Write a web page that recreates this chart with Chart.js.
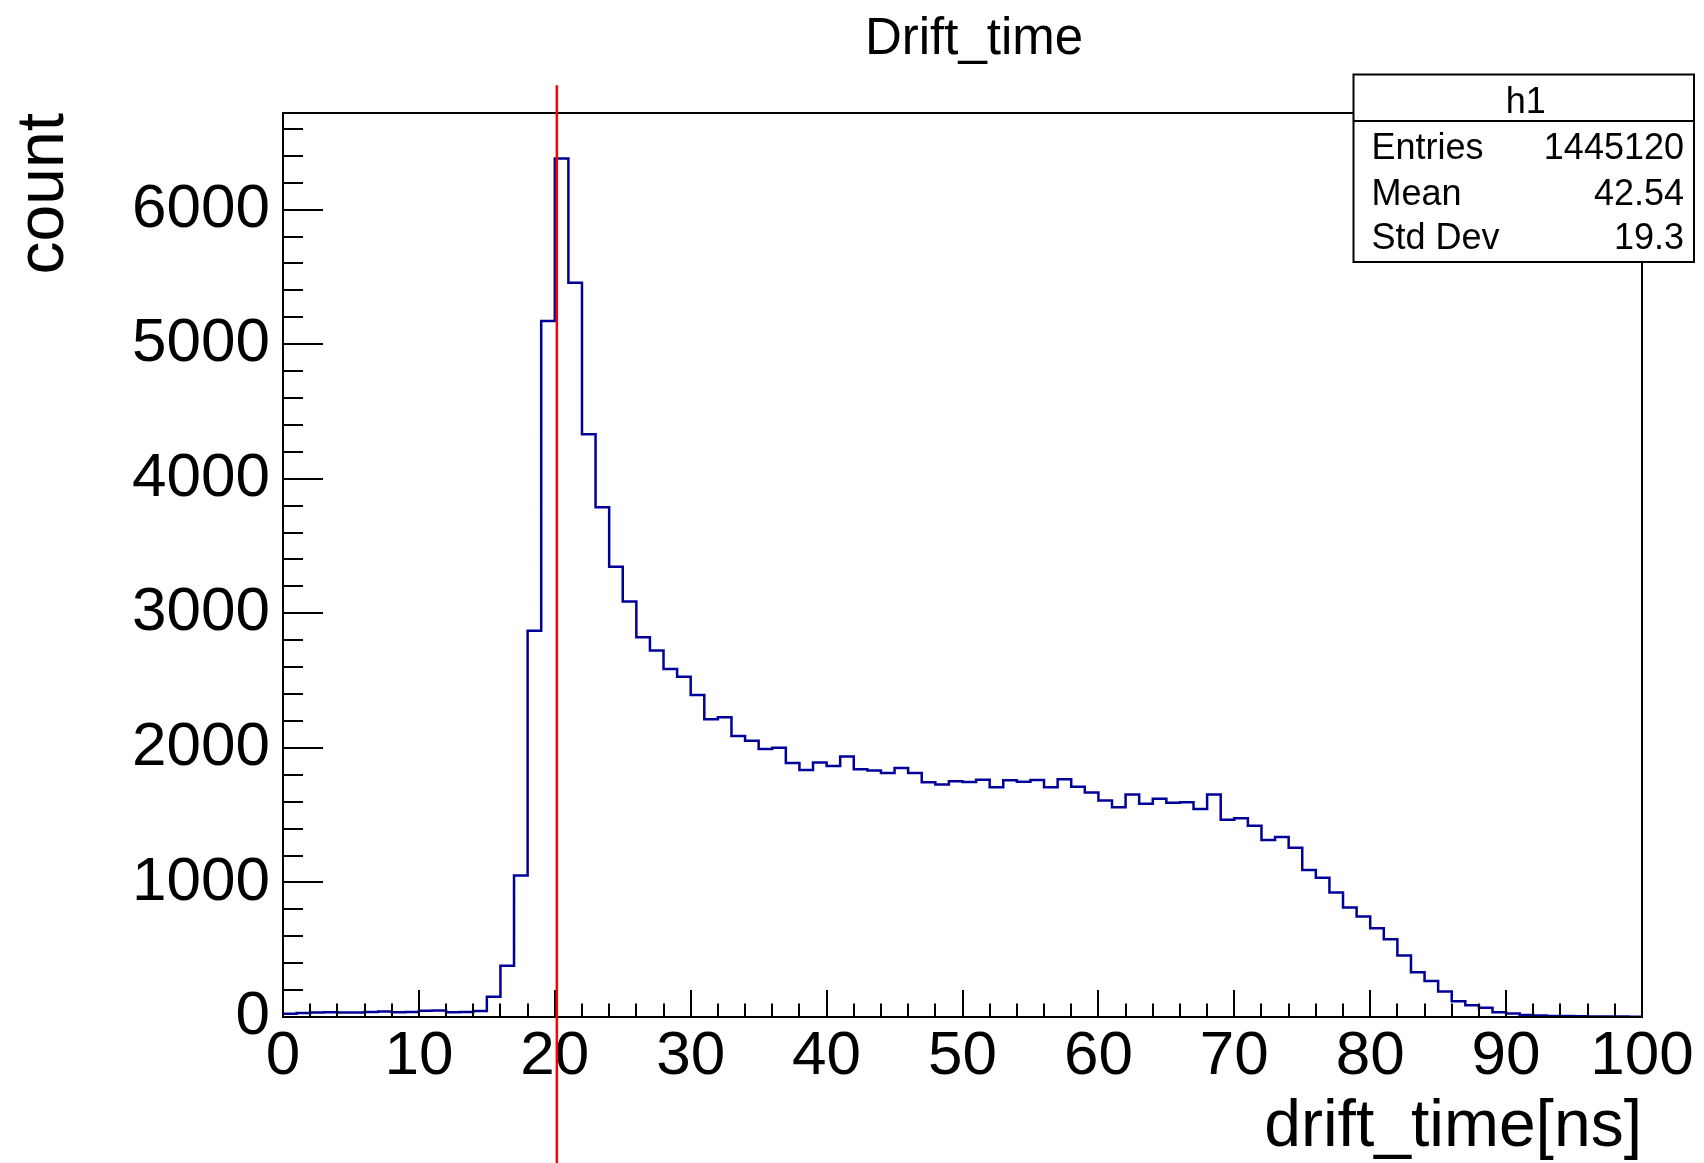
<!DOCTYPE html>
<html>
<head>
<meta charset="utf-8">
<title>Drift_time</title>
<script src="https://cdn.jsdelivr.net/npm/chart.js@4.4.1/dist/chart.umd.min.js"></script>
<style>
  html, body { margin: 0; padding: 0; background: #ffffff; }
  #wrap { width: 1704px; height: 1163px; position: relative; }
  canvas { display: block; }
</style>
</head>
<body>
<div id="wrap"><canvas id="chart" width="1704" height="1163"></canvas></div>
<script>
// ---- histogram definition ----
const histTitle = 'Drift_time';
const xTitle = 'drift_time[ns]';
const yTitle = 'count';
const nBins = 100;
const xMin = 0;
const xMax = 100;
const yMax = 6718;

// bin contents, one entry per 1 ns bin
const counts = [
  25, 30, 33, 35, 33, 33, 38, 40, 36, 37,
  46, 48, 36, 37, 45, 150, 380, 1052, 2870, 5172,
  6379, 5456, 4331, 3788, 3346, 3088, 2823, 2724, 2587, 2528,
  2393, 2212, 2228, 2089, 2052, 1992, 2000, 1888, 1836, 1891,
  1866, 1935, 1841, 1831, 1814, 1851, 1813, 1745, 1727, 1752,
  1747, 1764, 1707, 1759, 1749, 1762, 1707, 1767, 1712, 1668,
  1608, 1559, 1653, 1584, 1621, 1593, 1596, 1546, 1653, 1465,
  1477, 1422, 1316, 1338, 1257, 1093, 1034, 925, 813, 746,
  660, 578, 457, 333, 268, 189, 117, 88, 68, 35,
  26, 15, 12, 8, 7, 5, 4, 4, 3, 2
];

const xTickValues = [0, 10, 20, 30, 40, 50, 60, 70, 80, 90, 100];
const yTickValues = [0, 1000, 2000, 3000, 4000, 5000, 6000];
const xMinorStep = 2;
const yMinorStep = 200;

// statistics box
const statsName = 'h1';
const statsLabels = ['Entries', 'Mean', 'Std Dev'];
const statsValues = ['1445120', '42.54', '19.3'];

// vertical cut line (x value, and the y range it spans in data units)
const cutValue = 20.15;
const cutSpan = [-1085, 6925];

// ---- build step outline from bin edges ----
// point i sits on the low edge of bin i; the stepped line holds each
// point's value until the next edge, closing at the upper range limit
const binWidth = (xMax - xMin) / nBins;
const points = [];
for (let i = 0; i < nBins; i++) {
  points.push({ x: xMin + i * binWidth, y: counts[i] });
}
points.push({ x: xMax, y: counts[nBins - 1] });

const FONT = '"Liberation Sans", Arial, Helvetica, sans-serif';

// frame, inward ticks, titles, stats box and cut line
const rootStyle = {
  id: 'rootStyle',
  afterDatasetsDraw(chart) {
    const ctx = chart.ctx;
    const xs = chart.scales.x, ys = chart.scales.y;
    const a = chart.chartArea;
    ctx.save();

    // inward tick marks
    ctx.strokeStyle = '#000';
    ctx.lineWidth = 2;
    ctx.beginPath();
    for (let v = xMin; v <= xMax + 1e-9; v += xMinorStep) {
      const px = Math.round(xs.getPixelForValue(v));
      const major = xTickValues.includes(Math.round(v));
      const len = major ? 27 : 13.5;
      ctx.moveTo(px, a.bottom);
      ctx.lineTo(px, a.bottom - len);
    }
    for (let v = 0; v <= yMax; v += yMinorStep) {
      const py = Math.round(ys.getPixelForValue(v));
      const major = yTickValues.includes(v);
      const len = major ? 40 : 20;
      ctx.moveTo(a.left, py);
      ctx.lineTo(a.left + len, py);
    }
    ctx.stroke();

    // frame
    ctx.lineWidth = 2;
    ctx.strokeRect(a.left, a.top, a.right - a.left, a.bottom - a.top);

    // cut line
    ctx.strokeStyle = '#ff0000';
    ctx.lineWidth = 2.5;
    const cx = xs.getPixelForValue(cutValue);
    ctx.beginPath();
    ctx.moveTo(cx, ys.getPixelForValue(cutSpan[1]));
    ctx.lineTo(cx, ys.getPixelForValue(cutSpan[0]));
    ctx.stroke();

    // statistics box
    const bx = 1353.5, by = 74.5, bw = 340.5, bh = 187.5, hdr = 46.5;
    ctx.fillStyle = '#fff';
    ctx.fillRect(bx, by, bw, bh);
    ctx.strokeStyle = '#000';
    ctx.lineWidth = 2;
    ctx.strokeRect(bx, by, bw, bh);
    ctx.beginPath();
    ctx.moveTo(bx, by + hdr);
    ctx.lineTo(bx + bw, by + hdr);
    ctx.stroke();
    ctx.fillStyle = '#000';
    ctx.font = '36px ' + FONT;
    ctx.textBaseline = 'alphabetic';
    ctx.textAlign = 'center';
    ctx.fillText(statsName, bx + bw / 2 + 2, 113);
    const rowBase = [159, 205, 249];
    statsLabels.forEach((lab, i) => {
      ctx.textAlign = 'left';
      ctx.fillText(lab, bx + 18, rowBase[i]);
      ctx.textAlign = 'right';
      ctx.fillText(statsValues[i], bx + bw - 10, rowBase[i]);
    });

    // histogram title
    ctx.font = '51px ' + FONT;
    ctx.textAlign = 'center';
    ctx.fillText(histTitle, 974, 54);

    // axis titles
    ctx.font = '66px ' + FONT;
    ctx.textAlign = 'right';
    ctx.fillText(xTitle, a.right, 1146);
    ctx.save();
    ctx.translate(63, a.top);
    ctx.rotate(-Math.PI / 2);
    ctx.textAlign = 'right';
    ctx.fillText(yTitle, 0, 0);
    ctx.restore();

    ctx.restore();
  }
};

new Chart(document.getElementById('chart'), {
  type: 'line',
  data: {
    datasets: [{
      label: histTitle,
      data: points,
      stepped: 'before',
      borderColor: '#000099',
      borderWidth: 2.5,
      pointRadius: 0,
      fill: false,
      tension: 0
    }]
  },
  options: {
    responsive: false,
    animation: false,
    devicePixelRatio: 1,
    layout: { padding: { top: 113, right: 62, left: 0, bottom: 0 } },
    plugins: { legend: { display: false }, title: { display: false }, tooltip: { enabled: false } },
    scales: {
      x: {
        type: 'linear',
        min: xMin,
        max: xMax,
        afterBuildTicks: s => { s.ticks = xTickValues.map(v => ({ value: v })); },
        afterFit: s => { s.height = 146; },
        grid: { display: false, drawTicks: false },
        border: { display: false },
        ticks: {
          color: '#000',
          padding: 3,
          maxRotation: 0,
          autoSkip: false,
          callback: v => String(v),
          font: { family: FONT, size: 62, lineHeight: 1.2 }
        }
      },
      y: {
        type: 'linear',
        min: 0,
        max: yMax,
        afterBuildTicks: s => { s.ticks = yTickValues.map(v => ({ value: v })); },
        afterFit: s => { s.width = 283; },
        grid: { display: false, drawTicks: false },
        border: { display: false },
        ticks: {
          color: '#000',
          padding: 13,
          autoSkip: false,
          callback: v => String(v),
          font: { family: FONT, size: 62, lineHeight: 1.2 }
        }
      }
    }
  },
  plugins: [rootStyle]
});
</script>
</body>
</html>
